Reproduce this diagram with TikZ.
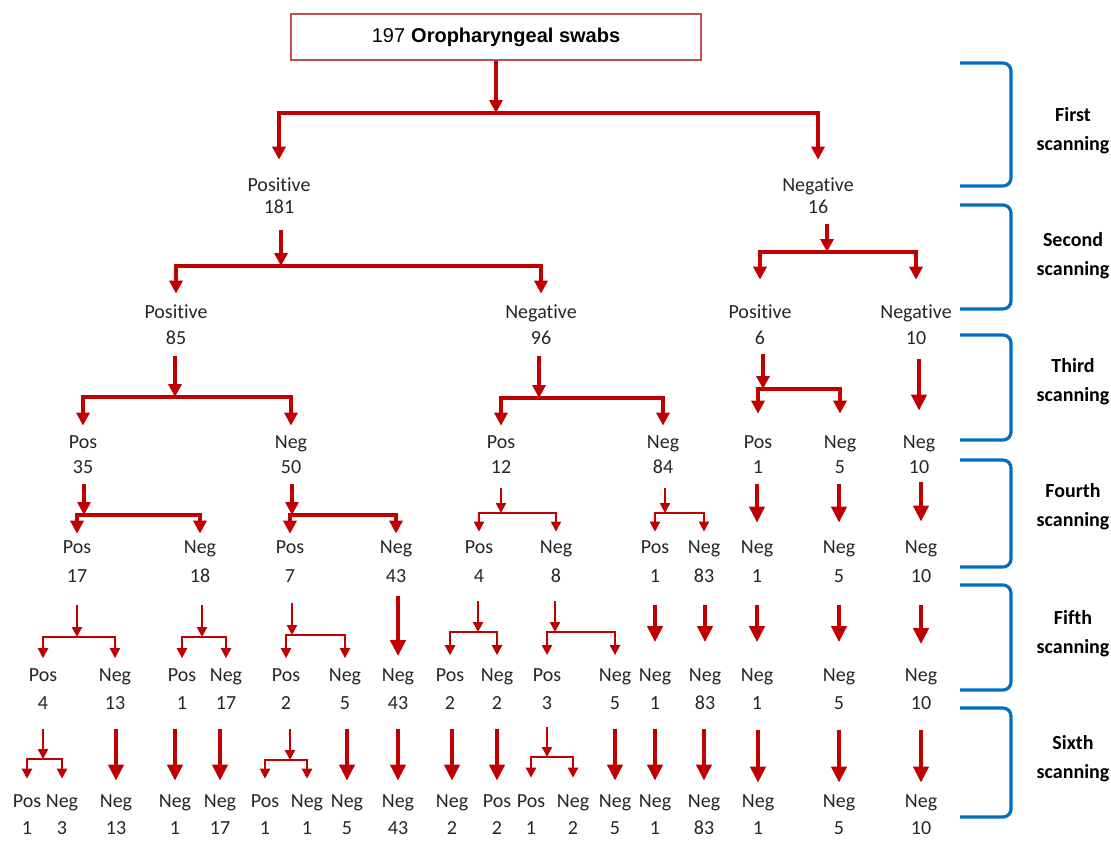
\documentclass[tikz,border=0pt]{standalone}
\usepackage{fontspec}
\setmainfont{Carlito}[Ligatures=CommonOff]
\newfontfamily\boxfont{Liberation Sans}
\usepackage{tikz}
\usetikzlibrary{arrows.meta}
\definecolor{arrred}{RGB}{192,0,0}
\definecolor{boxred}{RGB}{192,80,77}
\definecolor{brkblue}{RGB}{0,112,192}
\definecolor{txt}{RGB}{38,38,38}

\begin{document}
\begin{tikzpicture}[
    x=0.5pt, y=-0.5pt,
    topbox/.style={rectangle, draw=boxred, line width=1.3pt, minimum width=205pt,
                   minimum height=23pt, inner sep=0pt, text=black,
                   font=\boxfont\fontsize{10pt}{12pt}\selectfont},
    res/.style={align=center, inner sep=2pt, text=txt,
                font=\fontsize{10pt}{#1}\selectfont},
    res/.default=14pt,
    scan/.style={align=center, inner sep=0pt, text=black,
                 font=\bfseries\fontsize{10pt}{14.5pt}\selectfont},
    arr/.style={draw=arrred, line width=1.6pt, line join=miter,
                -{Triangle[length=6.5pt,width=6.5pt]}},
    split/.style={draw=arrred, line width=1.6pt, line join=miter,
                  {Triangle[length=6.5pt,width=6.5pt]}-{Triangle[length=6.5pt,width=6.5pt]},
                  shorten <=#1, shorten >=#1},
    tarr/.style={draw=arrred, line width=1.1pt, line join=miter,
                 -{Triangle[length=5pt,width=5pt]}},
    tsplit/.style={draw=arrred, line width=1.1pt, line join=miter,
                   {Triangle[length=5pt,width=5pt]}-{Triangle[length=5pt,width=5pt]},
                   shorten <=#1, shorten >=#1},
    big/.style={draw=arrred, line width=2pt, -{Triangle[length=8pt,width=7.5pt]}},
    brk/.style={draw=brkblue, line width=1.6pt, rounded corners=4pt}
  ]
    \useasboundingbox (0,0) rectangle (1111,841);

    \node[topbox] (box) at (496,37) {197\hspace{3pt}\textbf{Oropharyngeal swabs}};

    \node[res=11pt] (P) at (279,196) {Positive\\181};
    \node[res=11pt] (N) at (818,196) {Negative\\16};

    \node[res=13pt] (PP) at (176,325) {Positive\\85};
    \node[res=13pt] (PN) at (541,325) {Negative\\96};
    \node[res=13pt] (NP) at (760,325) {Positive\\6};
    \node[res=13pt] (NN) at (916,325) {Negative\\10};

    \node[res=12.5pt] (PPP) at (83,455)  {Pos\\35};
    \node[res=12.5pt] (PPN) at (291,455) {Neg\\50};
    \node[res=12.5pt] (PNP) at (501,455) {Pos\\12};
    \node[res=12.5pt] (PNN) at (663,455) {Neg\\84};
    \node[res=12.5pt] (NPP) at (758,455) {Pos\\1};
    \node[res=12.5pt] (NPN) at (840,455) {Neg\\5};
    \node[res=12.5pt] (NNN) at (919,455) {Neg\\10};

    \node[res=14.5pt] (PPPP) at (77,562)  {Pos\\17};
    \node[res=14.5pt] (PPPN) at (200,562) {Neg\\18};
    \node[res=14.5pt] (PPNP) at (290,562) {Pos\\7};
    \node[res=14.5pt] (PPNN) at (396,562) {Neg\\43};
    \node[res=14.5pt] (PNPP) at (479,562) {Pos\\4};
    \node[res=14.5pt] (PNPN) at (556,562) {Neg\\8};
    \node[res=14.5pt] (PNNP) at (655,562) {Pos\\1};
    \node[res=14.5pt] (PNNN) at (704,562) {Neg\\83};
    \node[res=14.5pt] (NPPN) at (757,562) {Neg\\1};
    \node[res=14.5pt] (NPNN) at (839,562) {Neg\\5};
    \node[res=14.5pt] (NNNN) at (921,562) {Neg\\10};

    \node[res] (PPPPP) at (43,689)  {Pos\\4};
    \node[res] (PPPPN) at (115,689) {Neg\\13};
    \node[res] (PPPNP) at (182,689) {Pos\\1};
    \node[res] (PPPNN) at (226,689) {Neg\\17};
    \node[res] (PPNPP) at (286,689) {Pos\\2};
    \node[res] (PPNPN) at (345,689) {Neg\\5};
    \node[res] (PPNNN) at (398,689) {Neg\\43};
    \node[res] (PNPPP) at (450,689) {Pos\\2};
    \node[res] (PNPPN) at (497,689) {Neg\\2};
    \node[res] (PNPNP) at (547,689) {Pos\\3};
    \node[res] (PNPNN) at (615,689) {Neg\\5};
    \node[res] (PNNPN) at (655,689) {Neg\\1};
    \node[res] (PNNNN) at (705,689) {Neg\\83};
    \node[res] (NPPNN) at (757,689) {Neg\\1};
    \node[res] (NPNNN) at (839,689) {Neg\\5};
    \node[res] (NNNNN) at (921,689) {Neg\\10};

    \node[res=13.5pt] (PPPPPP) at (27,815)  {Pos\\1};
    \node[res=13.5pt] (PPPPPN) at (62,815)  {Neg\\3};
    \node[res=13.5pt] (PPPPNN) at (116,815) {Neg\\13};
    \node[res=13.5pt] (PPPNPN) at (175,815) {Neg\\1};
    \node[res=13.5pt] (PPPNNN) at (220,815) {Neg\\17};
    \node[res=13.5pt] (PPNPPP) at (265,815) {Pos\\1};
    \node[res=13.5pt] (PPNPPN) at (307,815) {Neg\\1};
    \node[res=13.5pt] (PPNPNN) at (347,815) {Neg\\5};
    \node[res=13.5pt] (PPNNNN) at (398,815) {Neg\\43};
    \node[res=13.5pt] (PNPPPN) at (452,815) {Neg\\2};
    \node[res=13.5pt] (PNPPNP) at (497,815) {Pos\\2};
    \node[res=13.5pt] (PNPNPP) at (531,815) {Pos\\1};
    \node[res=13.5pt] (PNPNPN) at (573,815) {Neg\\2};
    \node[res=13.5pt] (PNPNNN) at (615,815) {Neg\\5};
    \node[res=13.5pt] (PNNPNN) at (655,815) {Neg\\1};
    \node[res=13.5pt] (PNNNNN) at (704,815) {Neg\\83};
    \node[res=13.5pt] (NPPNNN) at (758,815) {Neg\\1};
    \node[res=13.5pt] (NPNNNN) at (839,815) {Neg\\5};
    \node[res=13.5pt] (NNNNNN) at (921,815) {Neg\\10};

    \coordinate (topbar)   at (496,113);
    \coordinate (Pbar)     at (281,266);
    \coordinate (Nbar)     at (827,252);
    \coordinate (PPbar)    at (175,397);
    \coordinate (PNbar)    at (539,398);
    \coordinate (NPbar)    at (763,389);
    \coordinate (PPPbar)   at (84,515);
    \coordinate (PPNbar)   at (292,515);
    \coordinate (PNPbar)   at (501,513);
    \coordinate (PNNbar)   at (665,513);
    \coordinate (PPPPbar)  at (77,637);
    \coordinate (PPPNbar)  at (202,637);
    \coordinate (PPNPbar)  at (292,635);
    \coordinate (PNPPbar)  at (478,632);
    \coordinate (PNPNbar)  at (555,632);
    \coordinate (PPPPPbar) at (43,759);
    \coordinate (PPNPPbar) at (290,760);
    \coordinate (PNPNPbar) at (547,757);

    \draw[arr] (box) -- (topbar);
    \draw[split=7pt] (P) |- (topbar) -| (N);

    \draw[arr, shorten <=6pt] (P.south -| Pbar) -- (Pbar);
    \draw[split=3.5pt] (PP) |- (Pbar) -| (PN);
    \draw[arr, shorten <=3pt] (N.south -| Nbar) -- (Nbar);
    \draw[split=10.5pt] (NP) |- (Nbar) -| (NN);

    \draw[arr, shorten <=3.5pt] (PP.south -| PPbar) -- (PPbar);
    \draw[split=3pt] (PPP) |- (PPbar) -| (PPN);
    \draw[arr, shorten <=3.5pt] (PN.south -| PNbar) -- (PNbar);
    \draw[split=3pt] (PNP) |- (PNbar) -| (PNN);
    \draw[arr, shorten <=2.5pt] (NP.south -| NPbar) -- (NPbar);
    \draw[split=9pt] (NPP) |- (NPbar) -| (NPN);
    \draw[big, shorten <=5pt, shorten >=10.5pt] (NN.south -| NNN) -- (NNN);

    \draw[arr, shorten <=3pt] (PPP.south -| PPPbar) -- (PPPbar);
    \draw[split=1.5pt] (PPPP) |- (PPPbar) -| (PPPN);
    \draw[arr, shorten <=3pt] (PPN.south -| PPNbar) -- (PPNbar);
    \draw[split=1.5pt] (PPNP) |- (PPNbar) -| (PPNN);
    \draw[tarr, shorten <=5pt] (PNP.south -| PNPbar) -- (PNPbar);
    \draw[tsplit=2.5pt] (PNPP) |- (PNPbar) -| (PNPN);
    \draw[tarr, shorten <=5pt] (PNN.south -| PNNbar) -- (PNNbar);
    \draw[tsplit=2.5pt] (PNNP) |- (PNNbar) -| (PNNN);
    \draw[big, shorten <=3pt, shorten >=7pt] (NPP.south -| NPPN) -- (NPPN);
    \draw[big, shorten <=3pt, shorten >=7pt] (NPN.south -| NPNN) -- (NPNN);
    \draw[big, shorten <=2pt, shorten >=7.5pt] (NNN.south -| NNNN) -- (NNNN);

    \draw[tarr, shorten <=9pt] (PPPP.south -| PPPPbar) -- (PPPPbar);
    \draw[tsplit=3pt] (PPPPP) |- (PPPPbar) -| (PPPPN);
    \draw[tarr, shorten <=9pt] (PPPN.south -| PPPNbar) -- (PPPNbar);
    \draw[tsplit=3pt] (PPPNP) |- (PPPNbar) -| (PPPNN);
    \draw[tarr, shorten <=8pt] (PPNP.south -| PPNPbar) -- (PPNPbar);
    \draw[tsplit=3pt] (PPNPP) |- (PPNPbar) -| (PPNPN);
    \draw[big, shorten <=4.5pt, shorten >=4pt] (PPNN.south -| PPNNN) -- (PPNNN);
    \draw[tarr, shorten <=7pt] (PNPP.south -| PNPPbar) -- (PNPPbar);
    \draw[tsplit=4.5pt] (PNPPP) |- (PNPPbar) -| (PNPPN);
    \draw[tarr, shorten <=7pt] (PNPN.south -| PNPNbar) -- (PNPNbar);
    \draw[tsplit=4.5pt] (PNPNP) |- (PNPNbar) -| (PNPNN);
    \draw[big, shorten <=9pt, shorten >=11pt] (PNNP.south -| PNNPN) -- (PNNPN);
    \draw[big, shorten <=9pt, shorten >=11pt] (PNNN.south -| PNNNN) -- (PNNNN);
    \draw[big, shorten <=9pt, shorten >=11pt] (NPPN.south -| NPPNN) -- (NPPNN);
    \draw[big, shorten <=9pt, shorten >=11pt] (NPNN.south -| NPNNN) -- (NPNNN);
    \draw[big, shorten <=9pt, shorten >=10pt] (NNNN.south -| NNNNN) -- (NNNNN);

    \draw[tarr, shorten <=7.5pt] (PPPPP.south -| PPPPPbar) -- (PPPPPbar);
    \draw[tsplit=6pt] (PPPPPP) |- (PPPPPbar) -| (PPPPPN);
    \draw[big, shorten <=7.5pt, shorten >=5pt] (PPPPN.south -| PPPPNN) -- (PPPPNN);
    \draw[big, shorten <=7.5pt, shorten >=5pt] (PPPNP.south -| PPPNPN) -- (PPPNPN);
    \draw[big, shorten <=7.5pt, shorten >=5pt] (PPPNN.south -| PPPNNN) -- (PPPNNN);
    \draw[tarr, shorten <=7.5pt] (PPNPP.south -| PPNPPbar) -- (PPNPPbar);
    \draw[tsplit=6pt] (PPNPPP) |- (PPNPPbar) -| (PPNPPN);
    \draw[big, shorten <=7.5pt, shorten >=5pt] (PPNPN.south -| PPNPNN) -- (PPNPNN);
    \draw[big, shorten <=7.5pt, shorten >=5pt] (PPNNN.south -| PPNNNN) -- (PPNNNN);
    \draw[big, shorten <=7.5pt, shorten >=5pt] (PNPPP.south -| PNPPPN) -- (PNPPPN);
    \draw[big, shorten <=7.5pt, shorten >=5pt] (PNPPN.south -| PNPPNP) -- (PNPPNP);
    \draw[tarr, shorten <=6.5pt] (PNPNP.south -| PNPNPbar) -- (PNPNPbar);
    \draw[tsplit=6.5pt] (PNPNPP) |- (PNPNPbar) -| (PNPNPN);
    \draw[big, shorten <=7.5pt, shorten >=5pt] (PNPNN.south -| PNPNNN) -- (PNPNNN);
    \draw[big, shorten <=7.5pt, shorten >=5pt] (PNNPN.south -| PNNPNN) -- (PNNPNN);
    \draw[big, shorten <=7.5pt, shorten >=5pt] (PNNNN.south -| PNNNNN) -- (PNNNNN);
    \draw[big, shorten <=8pt, shorten >=4pt] (NPPNN.south -| NPPNNN) -- (NPPNNN);
    \draw[big, shorten <=8pt, shorten >=4pt] (NPNNN.south -| NPNNNN) -- (NPNNNN);
    \draw[big, shorten <=8pt, shorten >=4pt] (NNNNN.south -| NNNNNN) -- (NNNNNN);

    \draw[brk] (960,63)  -- (1011,63)  -- (1011,186) -- (960,186);
    \draw[brk] (960,205) -- (1011,205) -- (1011,309) -- (960,309);
    \draw[brk] (960,335) -- (1011,335) -- (1011,440) -- (960,440);
    \draw[brk] (960,460) -- (1011,460) -- (1011,567) -- (960,567);
    \draw[brk] (960,585) -- (1011,585) -- (1011,690) -- (960,690);
    \draw[brk] (960,708) -- (1011,708) -- (1011,817) -- (960,817);

    \node[scan] (first)  at (1073,131) {First\\scanning};
    \node[scan] (second) at (1073,256) {Second\\scanning};
    \node[scan] (third)  at (1073,382) {Third\\scanning};
    \node[scan] (fourth) at (1073,507) {Fourth\\scanning};
    \node[scan] (fifth)  at (1073,634) {Fifth\\scanning};
    \node[scan] (sixth)  at (1073,759) {Sixth\\scanning};
\end{tikzpicture}
\end{document}
